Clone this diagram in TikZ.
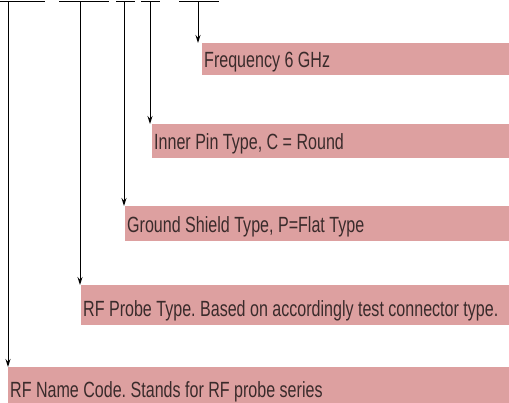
\documentclass[tikz,border=0pt]{standalone}
\usepackage{fontspec}
\usepackage{tikz}
\usetikzlibrary{arrows.meta, positioning, calc}
\newfontfamily\condfont{Liberation Sans}[FakeStretch=0.73]
\definecolor{boxRose}{HTML}{DDA0A0}
\definecolor{textBrown}{HTML}{3A2B2B}
\frenchspacing
\tikzset{
    codebox/.style={draw=none, anchor=base west, inner sep=0pt,
        text=textBrown, font=\condfont\fontsize{22}{22}\selectfont,
        align=left},
    codebar/.style={line width=1.1pt, black},
    codearrow/.style={line width=1pt, -{Stealth[length=8pt, width=5pt]}}
}

\begin{document}
\begin{tikzpicture}[x=1pt, y=-1pt]
        \useasboundingbox (0,0) rectangle (509,403);

        % The boxes
        \fill[boxRose] (202,43) rectangle (509,75);
        \node[codebox] (freq) at (204,68) {Frequency 6 GHz};
        \fill[boxRose] (152,124) rectangle (509,158);
        \node[codebox] (pin) at (154,150) {Inner Pin Type, C = Round};
        \fill[boxRose] (125,206) rectangle (509,241);
        \node[codebox] (shield) at (127,233) {Ground Shield Type, P=Flat Type};
        \fill[boxRose] (81,285) rectangle (509,325);
        \node[codebox] (probe) at (83,317) {RF Probe Type. Based on accordingly test connector type.};
        \fill[boxRose] (8,367) rectangle (509,403);
        \node[codebox] (name) at (10,398) {RF Name Code. Stands for RF probe series};

        % The bars on top
        \draw[codebar] (0,1.5) -- (45,1.5);
        \draw[codebar] (59,1.5) -- (109,1.5);
        \draw[codebar] (116,1.5) -- (135,1.5);
        \draw[codebar] (141,1.5) -- (160,1.5);
        \draw[codebar] (179,1.5) -- (219,1.5);
        \coordinate (t1) at (8,1.5);
        \coordinate (t2) at (80,1.5);
        \coordinate (t3) at (124,1.5);
        \coordinate (t4) at (150,1.5);
        \coordinate (t5) at (198,1.5);

        % The arrows
        \draw[codearrow] (t5) -- (t5 |- 0,43);
        \draw[codearrow] (t4) -- (t4 |- 0,124);
        \draw[codearrow] (t3) -- (t3 |- 0,206);
        \draw[codearrow] (t2) -- (t2 |- 0,285);
        \draw[codearrow] (t1) -- (t1 |- 0,367);
    \end{tikzpicture}
\end{document}
